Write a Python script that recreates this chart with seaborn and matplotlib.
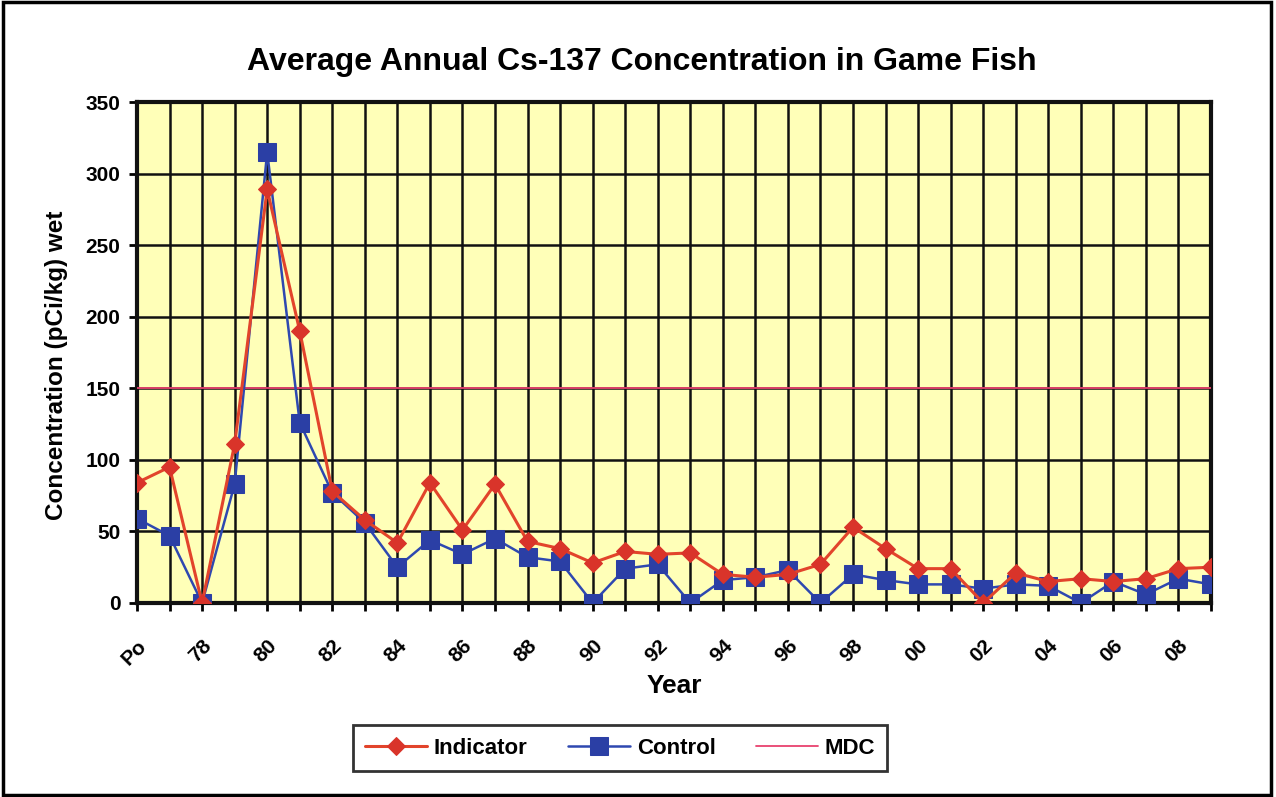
import numpy as np
import pandas as pd
import matplotlib
matplotlib.use("Agg")
import matplotlib.pyplot as plt
import seaborn as sns
from matplotlib.patches import Rectangle

# ==========================================
# DATA
# ==========================================
years = ['Po', '77', '78', '79', '80', '81', '82', '83', '84', '85', '86', '87',
         '88', '89', '90', '91', '92', '93', '94', '95', '96', '97', '98', '99',
         '00', '01', '02', '03', '04', '05', '06', '07', '08', '09']
indicator = [84, 95, 0, 111, 289, 190, 78, 58, 42, 84, 51, 83,
             43, 38, 28, 36, 34, 35, 20, 18, 20, 27, 53, 38,
             24, 24, 0, 21, 15, 17, 15, 17, 24, 25]
control = [59, 47, 0, 83, 315, 126, 77, 56, 25, 44, 34, 45,
           32, 29, 0, 24, 27, 0, 16, 18, 23, 0, 20, 16,
           13, 13, 10, 13, 12, 0, 15, 6, 17, 13]
mdc_level = 150
y_ticks = [0, 50, 100, 150, 200, 250, 300, 350]

df = pd.DataFrame({'idx': np.arange(len(years)), 'year': years,
                   'Indicator': indicator, 'Control': control,
                   'MDC': [mdc_level] * len(years)})

# ==========================================
# STYLING
# ==========================================
sns.set_theme(style="white")
plt.rcParams['font.family'] = ['Liberation Sans', 'DejaVu Sans']
plt.rcParams['font.weight'] = 'bold'
plt.rcParams['text.color'] = 'black'
plt.rcParams['axes.labelcolor'] = 'black'
plt.rcParams['xtick.color'] = 'black'
plt.rcParams['ytick.color'] = 'black'

RED = '#E2442B'
RED_MK = '#D9342A'
BLUE = '#2E48B0'
BLUE_MK = '#2B3FA5'
PINK = '#E8426E'

fig = plt.figure(figsize=(12.76, 7.97), dpi=100)
ax = fig.add_axes([137 / 1276, 1 - 603 / 797, (1211 - 137) / 1276, (603 - 102) / 797])
ax.set_facecolor('#FFFFB8')

sns.lineplot(data=df, x='idx', y='MDC', ax=ax, color=PINK, linewidth=1.3,
             label='MDC', zorder=3)
sns.lineplot(data=df, x='idx', y='Control', ax=ax, color=BLUE, linewidth=1.8,
             marker='s', markersize=13, markerfacecolor=BLUE_MK,
             markeredgecolor=BLUE_MK, label='Control', zorder=4)
sns.lineplot(data=df, x='idx', y='Indicator', ax=ax, color=RED, linewidth=2.2,
             marker='D', markersize=9, markerfacecolor=RED_MK,
             markeredgecolor=RED_MK, label='Indicator', zorder=5)

ax.set_xlim(0, len(years) - 1)
ax.set_ylim(0, 350)
ax.set_yticks(y_ticks)
ax.set_yticklabels([str(t) for t in y_ticks], fontsize=15, fontweight='bold')
ax.set_xticks(df['idx'])
ax.set_xticklabels([y if i % 2 == 0 else '' for i, y in enumerate(years)],
                   rotation=45, ha='right', rotation_mode='anchor',
                   fontsize=15, fontweight='bold')
ax.tick_params(axis='both', direction='out', length=6, width=2, color='black',
               pad=6, bottom=True, left=True)
ax.tick_params(axis='x', pad=18)

ax.grid(True, color='#111111', linewidth=1.8, zorder=1)
ax.set_axisbelow(True)
for side in ['left', 'bottom', 'right', 'top']:
    ax.spines[side].set_visible(True)
    ax.spines[side].set_color('#111111')
    ax.spines[side].set_linewidth(3)

ax.set_xlabel('Year', fontsize=19, fontweight='bold', labelpad=4)
ax.set_ylabel('Concentration (pCi/kg) wet', fontsize=17.5, fontweight='bold')
ax.yaxis.set_label_coords(-0.064, 0.475)
fig.text(642 / 1276, 1 - 62 / 797, 'Average Annual Cs-137 Concentration in Game Fish',
         ha='center', va='center', fontsize=23, fontweight='bold')

# legend in display order Indicator, Control, MDC
handles, labels = ax.get_legend_handles_labels()
order = [labels.index(n) for n in ['Indicator', 'Control', 'MDC']]
ax.legend_.remove()
leg = fig.legend([handles[i] for i in order], [labels[i] for i in order],
                 loc='center', bbox_to_anchor=(620 / 1276, 1 - 748 / 797),
                 ncol=3, fontsize=16, frameon=True, fancybox=False,
                 edgecolor='black', handlelength=2.8, handletextpad=0.3,
                 columnspacing=1.8, borderpad=0.55)
leg.get_frame().set_linewidth(2)
for t in leg.get_texts():
    t.set_fontweight('bold')

# outer border
fig.patches.append(Rectangle((0.002, 0.003), 0.994, 0.994, transform=fig.transFigure,
                             fill=False, edgecolor='black', linewidth=2.5))

fig.savefig('out.png', dpi=100)
